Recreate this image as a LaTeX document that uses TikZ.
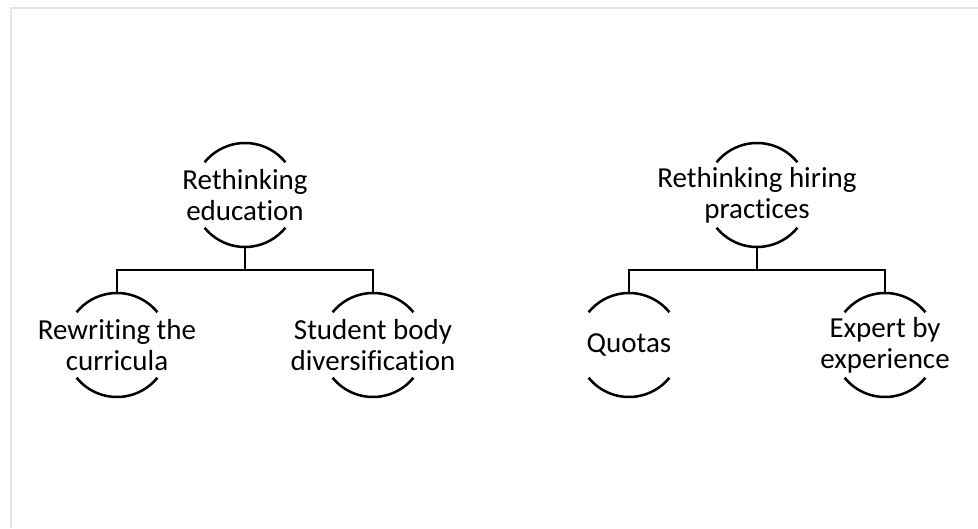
\documentclass[tikz,border=0pt]{standalone}
\usepackage{fontspec}
\setmainfont[Ligatures=NoCommon]{Carlito}
\begin{document}
\begin{tikzpicture}[x=1pt,y=1pt,
  ring/.style={circle, minimum size=104pt, inner sep=0pt, outer sep=0pt},
  label/.style={align=center, inner sep=0pt, font=\fontsize{29}{31}\selectfont},
  stroke/.style={line width=2.5pt, black},
  frameline/.style={line width=2pt, black!10}]
  \useasboundingbox (0,0) rectangle (978,528);
  \draw[frameline] (11,0) -- (11,520) -- (978,520);

  % hidden ring nodes holding the positions
  \node[ring] (edu) at (245,333) {};
  \node[ring] (cur) at (117,183) {};
  \node[ring] (stu) at (373,183) {};
  \node[ring] (hir) at (757,333) {};
  \node[ring] (quo) at (629,183) {};
  \node[ring] (exp) at (885,183) {};

  % texts
  \node[label] (tedu) at (edu.center) {Rethinking\\education};
  \node[label] (tcur) at (cur.center) {Rewriting the\\curricula};
  \node[label] (tstu) at (stu.center) {Student body\\diversification};
  \node[label] (thir) at (hir.center) {Rethinking hiring\\practices};
  \node[label] (tquo) at (quo.center) {Quotas};
  \node[label] (texp) at (exp.center) {Expert by\\experience};

  % the two arcs above and below each text
  \foreach \n in {edu,cur,stu,hir,quo,exp}{
    \draw[stroke] (\n.39) arc[start angle=39, end angle=141, radius=52pt];
    \draw[stroke] (\n.219) arc[start angle=219, end angle=321, radius=52pt];
  }

  % tree connectors
  \draw[stroke] (edu.south) -- ([yshift=23pt]edu.south |- cur.north);
  \draw[stroke] (cur.north) -- ++(0,23) -| (stu.north);
  \draw[stroke] (hir.south) -- ([yshift=23pt]hir.south |- quo.north);
  \draw[stroke] (quo.north) -- ++(0,23) -| (exp.north);
\end{tikzpicture}
\end{document}
